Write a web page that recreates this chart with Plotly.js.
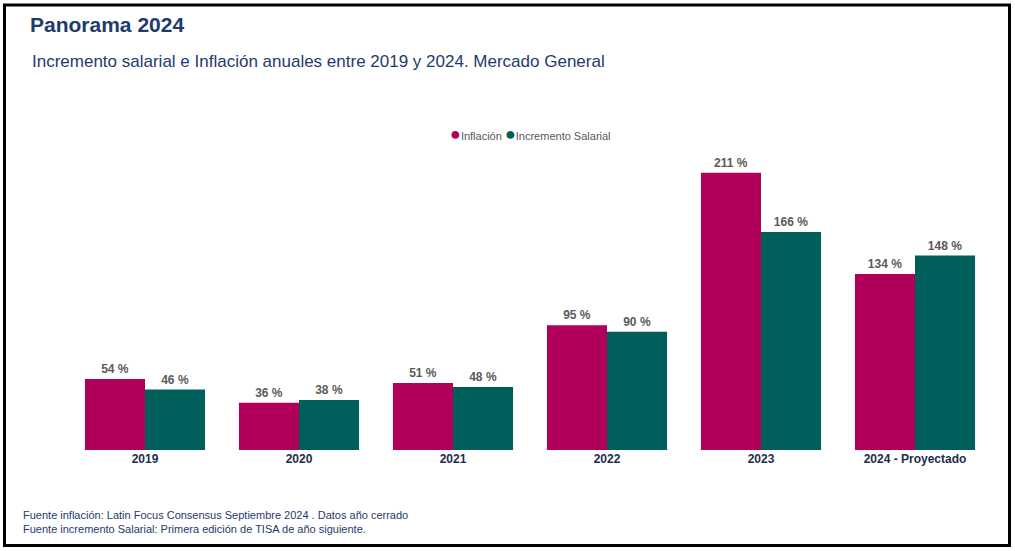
<!DOCTYPE html>
<html>
<head>
<meta charset="utf-8">
<script src="https://cdn.plot.ly/plotly-3.0.1.min.js"></script>
<style>
html,body{margin:0;padding:0;background:#fff;}
#chart{width:1015px;height:551px;}
</style>
</head>
<body>
<div id="chart"></div>
<script>
const categories = ["2019", "2020", "2021", "2022", "2023", "2024 - Proyectado"];
const inflacion = [54, 36, 51, 95, 211, 134];
const incrementoSalarial = [46, 38, 48, 90, 166, 148];
const seriesNames = ["Inflación", "Incremento Salarial"];
const colors = ["#B0005A", "#005F5A"];

const W = 1015, H = 551;
const M = {l: 68, r: 23, t: 161, b: 101};
const PW = W - M.l - M.r, PH = H - M.t - M.b;
const px = x => (x - M.l) / PW;
const py = y => (H - M.b - y) / PH;

const FONT = "Liberation Sans, Arial, sans-serif";

function barTrace(name, vals, color) {
  return {
    type: "bar",
    name: name,
    x: categories,
    y: vals,
    marker: {color: color},
    text: vals.map(v => v + " %"),
    textposition: "outside",
    cliponaxis: false,
    textfont: {family: FONT, size: 12, color: "#5A5A5A", weight: "bold"},
    hoverinfo: "x+y",
    showlegend: false
  };
}

const data = [
  barTrace(seriesNames[0], inflacion, colors[0]),
  barTrace(seriesNames[1], incrementoSalarial, colors[1])
];

const navy = "#1F3A6E";

const layout = {
  width: W, height: H,
  margin: M,
  paper_bgcolor: "#fff",
  plot_bgcolor: "#fff",
  barmode: "group",
  bargap: 0.22,
  bargroupgap: 0,
  font: {family: FONT},
  title: {
    text: "<b>Panorama 2024</b>",
    xref: "container", yref: "container",
    x: 30 / W, xanchor: "left",
    y: 1 - 25 / H, yanchor: "middle",
    font: {family: FONT, size: 21, color: navy}
  },
  xaxis: {
    type: "category",
    showline: false, showgrid: false, zeroline: false,
    ticks: "",
    tickfont: {family: FONT, size: 12, color: "#1F2D4D", weight: "bold"},
    fixedrange: true
  },
  yaxis: {
    range: [0, 220],
    visible: false,
    showgrid: false, zeroline: false,
    fixedrange: true
  },
  annotations: [
    {
      text: "Incremento salarial e Inflación anuales entre 2019 y 2024. Mercado General",
      xref: "paper", yref: "paper",
      x: px(30), y: py(61), xanchor: "left", yanchor: "middle",
      showarrow: false,
      font: {family: FONT, size: 17, color: navy}
    },
    {
      text: "<span style='color:" + colors[0] + ";font-size:18px'>●</span>" + seriesNames[0] +
            " <span style='color:" + colors[1] + ";font-size:18px'>●</span>" + seriesNames[1],
      xref: "paper", yref: "paper",
      x: px(530), y: py(134), xanchor: "center", yanchor: "middle",
      showarrow: false,
      font: {family: FONT, size: 11, color: "#595959"}
    },
    {
      text: "Fuente inflación: Latin Focus Consensus Septiembre 2024 . Datos año cerrado<br>Fuente incremento Salarial: Primera edición de TISA de año siguiente.",
      xref: "paper", yref: "paper",
      x: px(21), y: py(522), xanchor: "left", yanchor: "middle",
      align: "left",
      showarrow: false,
      font: {family: FONT, size: 11, color: navy}
    }
  ],
  shapes: [
    {
      type: "rect", xref: "paper", yref: "paper",
      x0: px(4.5), x1: px(1009.5), y0: py(5), y1: py(545.5),
      line: {color: "#000", width: 3},
      fillcolor: "rgba(0,0,0,0)",
      layer: "above"
    }
  ]
};

Plotly.newPlot("chart", data, layout, {displayModeBar: false, staticPlot: true});
</script>
</body>
</html>
